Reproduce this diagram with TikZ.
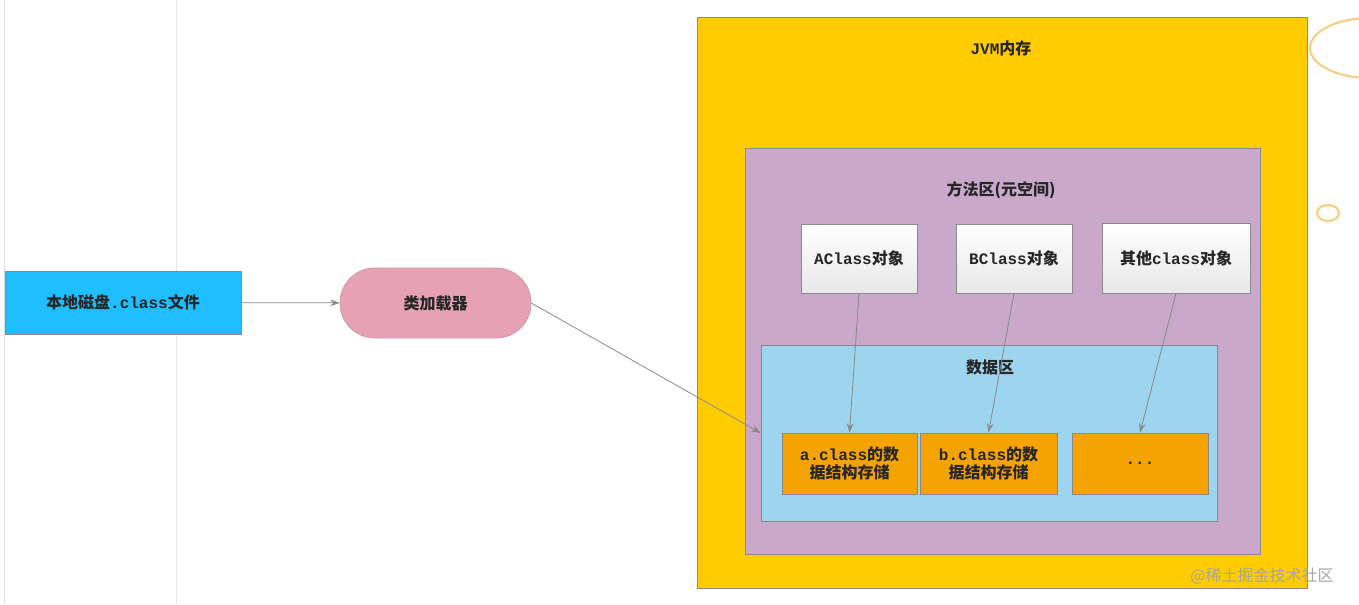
\documentclass[tikz,border=0pt]{standalone}
\usepackage{fontspec}
\setmainfont{Noto Sans CJK SC}
\newfontfamily\mono{Liberation Mono}
\usepackage{tikz}
\usetikzlibrary{arrows.meta}

\definecolor{jvmyellow}{HTML}{FFCC00}
\definecolor{methodpurple}{HTML}{C9A8CB}
\definecolor{datablue}{HTML}{9DD5EE}
\definecolor{storeorange}{HTML}{F5A300}
\definecolor{diskblue}{HTML}{1FBEFF}
\definecolor{loaderpink}{HTML}{E7A1B5}
\definecolor{edgegray}{HTML}{8A8A8A}
\definecolor{ringorange}{HTML}{F9CB7A}
\definecolor{textdark}{HTML}{262626}

\begin{document}
\begin{tikzpicture}[x=0.75pt, y=-0.75pt,
        box/.style={draw=edgegray, line width=0.5pt, inner sep=0pt, align=center, text=textdark, font=\fontsize{12}{14}\selectfont\bfseries},
        classobj/.style={box, top color=white, bottom color=gray!18, minimum width=87pt, minimum height=51.75pt},
        store/.style={box, fill=storeorange, minimum width=101.25pt, minimum height=45.75pt},
        flow/.style={draw=edgegray, line width=0.6pt, -{Stealth[length=7pt, width=5pt]}},
        title/.style={text=textdark, font=\fontsize{12}{14}\selectfont\bfseries}]
        \useasboundingbox (0,0) rectangle (1359,604);
        \fill[white] (0,0) rectangle (1359,604);

        % page guides
        \draw[gray!25, line width=0.6pt] (4,0) -- (4,604);
        \draw[gray!35, line width=0.5pt, densely dotted] (176,0) -- (176,604);

        % left side
        \node[box, fill=diskblue, minimum width=177pt, minimum height=47.25pt] (disk) at (123,302.5) {本地磁盘{\mono .class}文件};
        \node[box, fill=loaderpink, draw=loaderpink!70!gray, rounded corners=26pt, minimum width=143.25pt, minimum height=52.5pt] (loader) at (435.5,303) {类加载器};

        % JVM memory
        \draw[edgegray, line width=0.5pt, fill=jvmyellow] (697,17) rectangle (1307,588);
        \node[title] (jvm) at (1001,48) {{\mono JVM}内存};
        \draw[edgegray, line width=0.5pt, fill=methodpurple] (745,148) rectangle (1260,554);
        \node[title] (method) at (1001,190) {方法区(元空间)};

        \node[classobj] (aclass) at (859,258.5) {{\mono AClass}对象};
        \node[classobj] (bclass) at (1014,258.5) {{\mono BClass}对象};
        \node[classobj, minimum width=111pt, minimum height=52.5pt] (oclass) at (1176,258) {其他{\mono class}对象};

        \node[box, fill=datablue, minimum width=342pt, minimum height=132pt] (data) at (989,433) {};
        \node[title] (datatitle) at (990,367) {数据区};

        \node[store] (adata) at (849.5,463.5) {{\mono a.class}的数\\据结构存储};
        \node[store, minimum width=102.75pt] (bdata) at (988.5,463.5) {{\mono b.class}的数\\据结构存储};
        \node[store, minimum width=102pt] (odata) at (1140,463.5) {{\mono ...}};

        % connectors
        \draw[flow] (disk) -- (loader);
        \draw[flow] (loader.east) -- (data.west);
        \draw[flow] (aclass.south) -- (adata.north);
        \draw[flow] (bclass.south) -- (bdata.north);
        \draw[flow] (oclass.south) -- (odata.north);

        % rings on the right edge
        \begin{scope}
            \clip (0,0) rectangle (1359,604);
            \draw[ringorange, line width=1.5pt] (1370,48) ellipse (60 and 30);
            \draw[ringorange, line width=1.5pt] (1328,213) ellipse (11 and 8);
        \end{scope}

        \node[text=gray!70, font=\fontsize{12}{14}\selectfont] (mark) at (1262,576) {@稀土掘金技术社区};
    \end{tikzpicture}
\end{document}
